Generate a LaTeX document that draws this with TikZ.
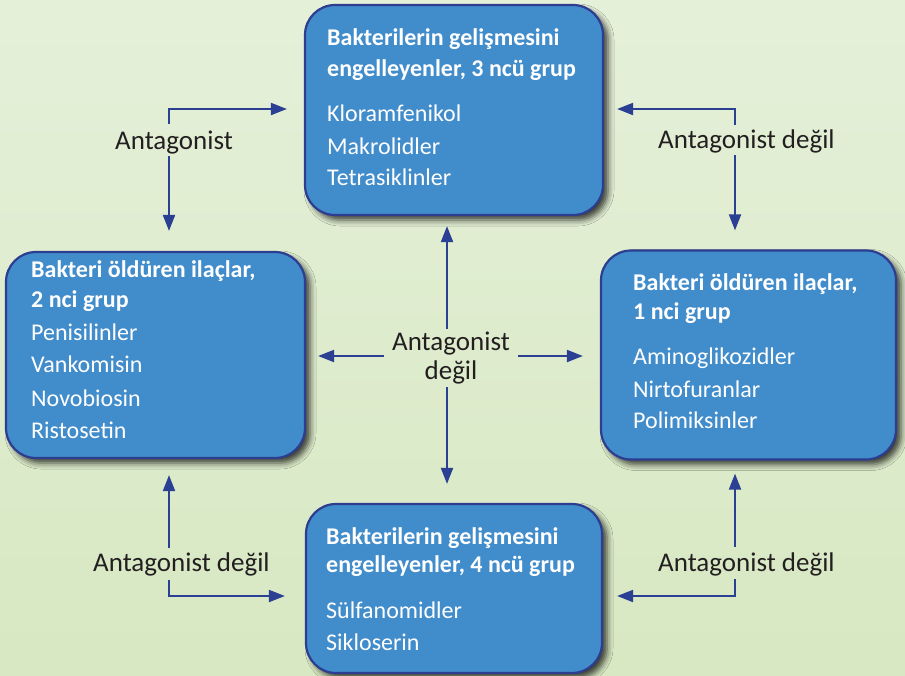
\documentclass[tikz,border=0pt]{standalone}
\usepackage{fontspec}
\setmainfont{Carlito}
\usetikzlibrary{arrows.meta,shadows.blur,calc}
\definecolor{bgtop}{HTML}{E5F0D9}
\definecolor{bgbot}{HTML}{D7E8C2}
\definecolor{boxfill}{HTML}{418CCB}
\definecolor{boxline}{HTML}{2D3D8F}
\definecolor{arrcol}{HTML}{2B3F93}
\definecolor{lblcol}{HTML}{231F20}
\tikzset{
  grpbox/.style={draw=boxline, line width=2.2pt, fill=boxfill, rounded corners=30pt,
    inner sep=0pt, blur shadow={shadow xshift=5pt, shadow yshift=-5pt, shadow blur radius=6pt, shadow opacity=75}},
  hd/.style={anchor=base west, inner sep=0pt, text=white, font=\fontsize{24}{28}\selectfont\bfseries},
  it/.style={anchor=base west, inner sep=0pt, text=white, font=\fontsize{24}{28}\selectfont},
  lbl/.style={inner sep=0pt, text=lblcol, font=\fontsize{27}{29}\selectfont},
  arr/.style={draw=arrcol, line width=2pt, -{Triangle[length=16pt,width=12pt]}}
}
\begin{document}
\begin{tikzpicture}[x=1pt,y=-1pt]
\useasboundingbox (0,0) rectangle (905,675);
\shade[top color=bgtop, bottom color=bgbot] (0,0) rectangle (905,675);
% boxes
\node[grpbox, minimum width=298pt, minimum height=210pt] (top) at (454,110) {};
\node[grpbox, minimum width=299pt, minimum height=206pt] (left) at (155.5,355) {};
\node[grpbox, minimum width=295pt, minimum height=209pt] (right) at (748.5,355) {};
\node[grpbox, minimum width=296pt, minimum height=169pt] (bottom) at (454,588.5) {};
% top box text
\node[hd] (t1) at (327,45.7) {Bakterilerin gelişmesini};
\node[hd] (t2) at (327,76.7) {engelleyenler, 3 ncü grup};
\node[it] (t3) at (327,121.7) {Kloramfenikol};
\node[it] (t4) at (327,154) {Makrolidler};
\node[it] (t5) at (327,185.5) {Tetrasiklinler};
% left box text
\node[hd] (l1) at (31,277) {Bakteri öldüren ilaçlar,};
\node[hd] (l2) at (31,307.7) {2 nci grup};
\node[it] (l3) at (31,340) {Penisilinler};
\node[it] (l4) at (31,372.5) {Vankomisin};
\node[it] (l5) at (31,406) {Novobiosin};
\node[it] (l6) at (31,438.7) {Ristosetin};
% right box text
\node[hd] (r1) at (633,290) {Bakteri öldüren ilaçlar,};
\node[hd] (r2) at (633,319) {1 nci grup};
\node[it] (r3) at (633,364) {Aminoglikozidler};
\node[it] (r4) at (633,397) {Nirtofuranlar};
\node[it] (r5) at (633,428.5) {Polimiksinler};
% bottom box text
\node[hd] (b1) at (326,544) {Bakterilerin gelişmesini};
\node[hd] (b2) at (326,572) {engelleyenler, 4 ncü grup};
\node[it] (b3) at (326,618) {Sülfanomidler};
\node[it] (b4) at (326,650) {Sikloserin};
% labels
\node[lbl, anchor=base west] (lblA) at (115,149) {Antagonist};
\node[lbl, anchor=base west] (lblB) at (658,148.5) {Antagonist değil};
\node[lbl, align=center] (lblC) at (451,358) {Antagonist\\[0pt]değil};
\node[lbl, anchor=base west] (lblD) at (93,571.7) {Antagonist değil};
\node[lbl, anchor=base west] (lblE) at (658,571) {Antagonist değil};
% helper coordinates
\coordinate (xL) at (169,0);
\coordinate (xR) at (735,0);
\coordinate (xC) at (447,0);
\coordinate (yT) at (0,109);
\coordinate (yM) at (0,356);
\coordinate (yB) at (0,596);
% connectors
\draw[arr, shorten <=6pt, shorten >=17pt] (lblA.north -| xL) |- (top.west |- yT);
\draw[arr, shorten <=2pt, shorten >=20pt] (lblA.south -| xL) -- (left.north -| xL);
\draw[arr, shorten <=5pt, shorten >=13pt] (lblB.north -| xR) |- (top.east |- yT);
\draw[arr, shorten <=2pt, shorten >=19pt] (lblB.south -| xR) -- (right.north -| xR);
\draw[arr, shorten <=3pt, shorten >=10pt] (lblC.north -| xC) -- (top.south -| xC);
\draw[arr, shorten <=3pt, shorten >=19pt] (lblC.south -| xC) -- (bottom.north -| xC);
\draw[arr, shorten <=8pt, shorten >=12pt] (lblC.west |- yM) -- (left.east |- yM);
\draw[arr, shorten <=8pt, shorten >=17pt] (lblC.east |- yM) -- (right.west |- yM);
\draw[arr, shorten <=5pt, shorten >=16pt] (lblD.north -| xL) -- (left.south -| xL);
\draw[arr, shorten <=3pt, shorten >=20pt] (lblD.south -| xL) |- (bottom.west |- yB);
\draw[arr, shorten <=5pt, shorten >=13pt] (lblE.north -| xR) -- (right.south -| xR);
\draw[arr, shorten <=3pt, shorten >=14pt] (lblE.south -| xR) |- (bottom.east |- yB);
\end{tikzpicture}
\end{document}
